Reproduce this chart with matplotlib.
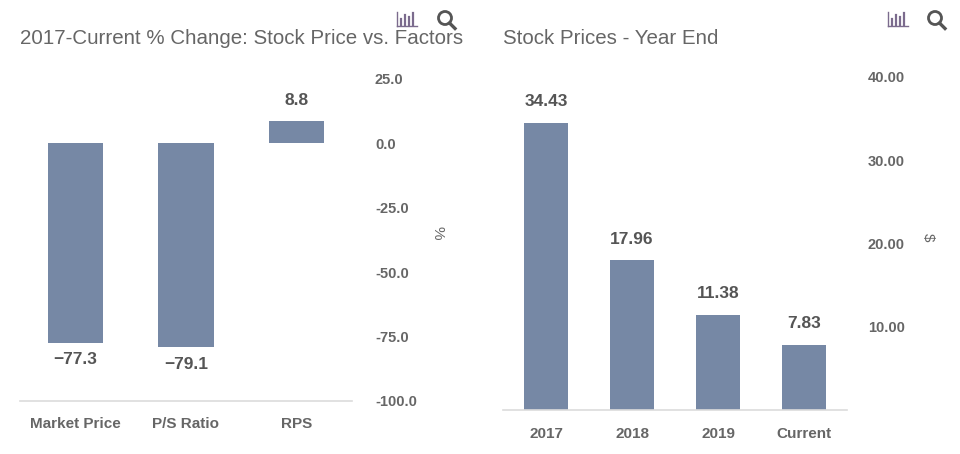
import matplotlib
matplotlib.use('Agg')
import matplotlib.pyplot as plt
from matplotlib.lines import Line2D
from matplotlib.patches import Ellipse

# data
factor_labels = ['Market Price', 'P/S Ratio', 'RPS']
factor_change = [-77.3, -79.1, 8.8]
factor_ticks = [-100, -75, -50, -25, 0, 25]

year_labels = ['2017', '2018', '2019', 'Current']
year_prices = [34.43, 17.96, 11.38, 7.83]
price_ticks = [10, 20, 30, 40]

W, H = 960, 454
BAR = '#7688a5'
TXT = '#666666'
AXL = '#dcdcdc'

plt.rcParams['font.family'] = ['Liberation Sans', 'DejaVu Sans']

fig = plt.figure(figsize=(W / 100, H / 100), dpi=100)


def px(x0, y0, x1, y1):
    # pixel box (top-left origin) -> figure rect
    return [x0 / W, 1 - y1 / H, (x1 - x0) / W, (y1 - y0) / H]


def icons(xbar, xmag):
    # little bar-chart icon
    c = '#7b6b8d'
    for dx, top in [(4, 19), (8, 15), (12, 17), (16, 13)]:
        x = xbar + dx
        fig.add_artist(Line2D([x / W, x / W], [1 - 25 / H, 1 - top / H],
                              color=c, lw=1.6))
    fig.add_artist(Line2D([xbar / W, (xbar + 20) / W], [1 - 26 / H, 1 - 26 / H],
                          color=c, lw=1.0))
    fig.add_artist(Line2D([xbar / W, xbar / W], [1 - 26 / H, 1 - 12 / H],
                          color=c, lw=1.0))
    # magnifier
    fig.add_artist(Ellipse(((xmag + 7) / W, 1 - 18 / H), 13 / W, 13 / H,
                           transform=fig.transFigure, fill=False,
                           ec='#555555', lw=2.0))
    fig.add_artist(Line2D([(xmag + 11.5) / W, (xmag + 17) / W],
                          [1 - 23 / H, 1 - 28.5 / H], color='#555555', lw=2.4))


def style(ax):
    for s in ['top', 'left', 'right']:
        ax.spines[s].set_visible(False)
    ax.spines['bottom'].set_color(AXL)
    ax.spines['bottom'].set_linewidth(1.2)
    ax.yaxis.tick_right()
    ax.tick_params(axis='both', length=0, colors=TXT)
    for t in ax.get_xticklabels() + ax.get_yticklabels():
        t.set_fontweight('bold')
        t.set_color(TXT)


# left chart: % change
ax1 = fig.add_axes(px(20, 79, 352, 401))
xs = range(len(factor_labels))
ax1.bar(xs, factor_change, width=0.5, color=BAR)
ax1.set_xlim(-0.5, len(factor_labels) - 0.5)
ax1.set_ylim(-100, 25)
ax1.set_yticks(factor_ticks)
ax1.set_yticklabels([f'{v:.1f}' for v in factor_ticks], fontsize=10.5, ha='left')
ax1.tick_params(axis='y', pad=16.5)
ax1.set_xticks(list(xs))
ax1.set_xticklabels(factor_labels, fontsize=11)
ax1.tick_params(axis='x', pad=11.5)
style(ax1)
for x, v in zip(xs, factor_change):
    if v >= 0:
        ax1.annotate(f'{v:.1f}', (x, v), xytext=(0, 9), textcoords='offset points',
                     ha='center', va='bottom', fontsize=12.5, fontweight='bold', color='#555555')
    else:
        ax1.annotate(f'\u2212{abs(v):.1f}', (x, v), xytext=(0, -7), textcoords='offset points',
                     ha='center', va='top', fontsize=12.5, fontweight='bold', color='#555555')
fig.text(437 / W, 1 - 233 / H, '%', rotation=-90, ha='center', va='center',
         fontsize=11, color=TXT)
fig.text(20 / W, 1 - 38 / H, '2017-Current % Change: Stock Price vs. Factors',
         fontsize=14.8, color=TXT, va='center', ha='left')
icons(397, 438)

# right chart: year end prices
ax2 = fig.add_axes(px(503, 77, 847, 410))
xs2 = range(len(year_labels))
ax2.bar(xs2, year_prices, width=0.51, color=BAR)
ax2.set_xlim(-0.5, len(year_labels) - 0.5)
ax2.set_ylim(0, 40)
ax2.set_yticks(price_ticks)
ax2.set_yticklabels([f'{v:.2f}' for v in price_ticks], fontsize=10.5, ha='left')
ax2.tick_params(axis='y', pad=15)
ax2.set_xticks(list(xs2))
ax2.set_xticklabels(year_labels, fontsize=11)
ax2.tick_params(axis='x', pad=12.5)
style(ax2)
for x, v in zip(xs2, year_prices):
    ax2.annotate(f'{v:.2f}', (x, v), xytext=(0, 10), textcoords='offset points',
                 ha='center', va='bottom', fontsize=12.5, fontweight='bold', color='#555555')
fig.text(928 / W, 1 - 237 / H, '$', rotation=-90, ha='center', va='center',
         fontsize=11, color=TXT)
fig.text(503 / W, 1 - 38 / H, 'Stock Prices - Year End',
         fontsize=14.8, color=TXT, va='center', ha='left')
icons(888, 928)

fig.savefig('out.png', dpi=100, facecolor='white')
